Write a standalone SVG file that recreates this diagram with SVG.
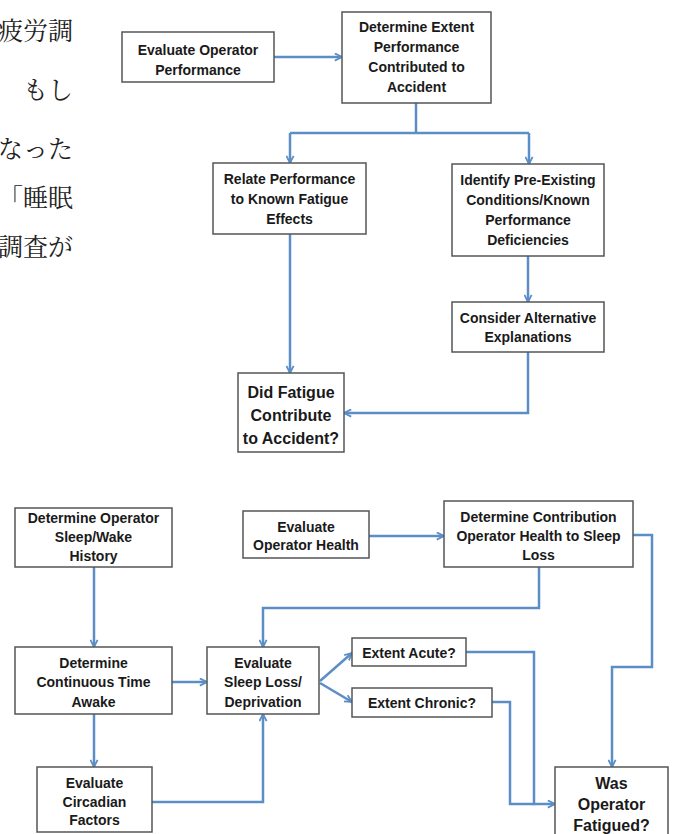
<svg xmlns="http://www.w3.org/2000/svg" width="673" height="834" viewBox="0 0 673 834">
<defs>
<style>
.box{fill:#fff;stroke:#555;stroke-width:1.5}
.t{font-family:"Liberation Sans",Arial,sans-serif;font-weight:bold;font-size:14px;fill:#1a1a1a;text-anchor:middle}
.tb{font-family:"Liberation Sans",Arial,sans-serif;font-weight:bold;font-size:16px;fill:#1a1a1a;text-anchor:middle}
.jp{font-family:"Noto Serif CJK JP","Noto Sans CJK JP",serif;font-size:25px;fill:#222;text-anchor:end}
.c{fill:none;stroke:#5b8ec6;stroke-width:2.5;stroke-linejoin:miter}
</style>
<marker id="ah" viewBox="0 0 10 10" refX="9" refY="5" markerWidth="9" markerHeight="9" markerUnits="userSpaceOnUse" orient="auto">
<path d="M1,1 L9,5 L1,9" fill="none" stroke="#5b8ec6" stroke-width="2"/>
</marker>
</defs>
<rect width="673" height="834" fill="#fff"/>

<g id="jp-text">
<text class="jp" x="73" y="40">疲労調</text>
<text class="jp" x="73" y="99">もし</text>
<text class="jp" x="73" y="158">なった</text>
<text class="jp" x="73" y="207">「睡眠</text>
<text class="jp" x="73" y="256">調査が</text>
</g>

<g id="connectors">
<path class="c" d="M274,57 H342" marker-end="url(#ah)"/>
<path class="c" d="M416,103 V133"/>
<path class="c" d="M290,133 H529"/>
<path class="c" d="M290,133 V163" marker-end="url(#ah)"/>
<path class="c" d="M529,133 V164" marker-end="url(#ah)"/>
<path class="c" d="M290,234 V373" marker-end="url(#ah)"/>
<path class="c" d="M528,256 V302" marker-end="url(#ah)"/>
<path class="c" d="M528,352 V413 H344" marker-end="url(#ah)"/>

<path class="c" d="M369,536 H444" marker-end="url(#ah)"/>
<path class="c" d="M633,535 H652 V667 H612 V767" marker-end="url(#ah)"/>
<path class="c" d="M539,567 V608 H263 V647" marker-end="url(#ah)"/>
<path class="c" d="M94,567 V647" marker-end="url(#ah)"/>
<path class="c" d="M172,682 H207" marker-end="url(#ah)"/>
<path class="c" d="M94,714 V767" marker-end="url(#ah)"/>
<path class="c" d="M152,802 H263 V714" marker-end="url(#ah)"/>
<path class="c" d="M320,681 L352,653" marker-end="url(#ah)"/>
<path class="c" d="M320,683 L352,702" marker-end="url(#ah)"/>
<path class="c" d="M466,652 H534 V804 H555" marker-end="url(#ah)"/>
<path class="c" d="M492,702 H510 V804 H534"/>
</g>

<g id="n1">
<rect class="box" x="122" y="32" width="152" height="50"/>
<text class="t" x="198" y="55">Evaluate Operator</text>
<text class="t" x="198" y="75">Performance</text>
</g>
<g id="n2">
<rect class="box" x="342" y="12" width="149" height="91"/>
<text class="t" x="416.5" y="32">Determine Extent</text>
<text class="t" x="416.5" y="52">Performance</text>
<text class="t" x="416.5" y="72">Contributed to</text>
<text class="t" x="416.5" y="92">Accident</text>
</g>
<g id="n3">
<rect class="box" x="213" y="163" width="153" height="71"/>
<text class="t" x="289.5" y="184">Relate Performance</text>
<text class="t" x="289.5" y="204">to Known Fatigue</text>
<text class="t" x="289.5" y="224">Effects</text>
</g>
<g id="n4">
<rect class="box" x="452" y="164" width="152" height="92"/>
<text class="t" x="528" y="185">Identify Pre-Existing</text>
<text class="t" x="528" y="205">Conditions/Known</text>
<text class="t" x="528" y="225">Performance</text>
<text class="t" x="528" y="245">Deficiencies</text>
</g>
<g id="n5">
<rect class="box" x="452" y="302" width="152" height="50"/>
<text class="t" x="528" y="323">Consider Alternative</text>
<text class="t" x="528" y="342">Explanations</text>
</g>
<g id="n6">
<rect class="box" x="238" y="373" width="106" height="79"/>
<text class="tb" x="291" y="398">Did Fatigue</text>
<text class="tb" x="291" y="421">Contribute</text>
<text class="tb" x="291" y="444">to Accident?</text>
</g>

<g id="b1">
<rect class="box" x="15" y="508" width="157" height="59"/>
<text class="t" x="93.5" y="523">Determine Operator</text>
<text class="t" x="93.5" y="542">Sleep/Wake</text>
<text class="t" x="93.5" y="561">History</text>
</g>
<g id="b2">
<rect class="box" x="243" y="511" width="126" height="47"/>
<text class="t" x="306" y="532">Evaluate</text>
<text class="t" x="306" y="550">Operator Health</text>
</g>
<g id="b3">
<rect class="box" x="444" y="501" width="189" height="66"/>
<text class="t" x="538.5" y="522">Determine Contribution</text>
<text class="t" x="538.5" y="541">Operator Health to Sleep</text>
<text class="t" x="538.5" y="560">Loss</text>
</g>
<g id="b4">
<rect class="box" x="15" y="647" width="157" height="67"/>
<text class="t" x="93.5" y="668">Determine</text>
<text class="t" x="93.5" y="687">Continuous Time</text>
<text class="t" x="93.5" y="707">Awake</text>
</g>
<g id="b5">
<rect class="box" x="207" y="647" width="112" height="67"/>
<text class="t" x="263" y="668">Evaluate</text>
<text class="t" x="263" y="687">Sleep Loss/</text>
<text class="t" x="263" y="707">Deprivation</text>
</g>
<g id="b6">
<rect class="box" x="37" y="767" width="115" height="65"/>
<text class="t" x="94.5" y="788">Evaluate</text>
<text class="t" x="94.5" y="807">Circadian</text>
<text class="t" x="94.5" y="825">Factors</text>
</g>
<g id="b7">
<rect class="box" x="352" y="638" width="114" height="28"/>
<text class="t" x="409" y="658">Extent Acute?</text>
</g>
<g id="b8">
<rect class="box" x="352" y="688" width="140" height="29"/>
<text class="t" x="422" y="708">Extent Chronic?</text>
</g>
<g id="b9">
<rect class="box" x="555" y="767" width="113" height="75"/>
<text class="tb" x="611.5" y="789">Was</text>
<text class="tb" x="611.5" y="810">Operator</text>
<text class="tb" x="611.5" y="831">Fatigued?</text>
</g>
</svg>
